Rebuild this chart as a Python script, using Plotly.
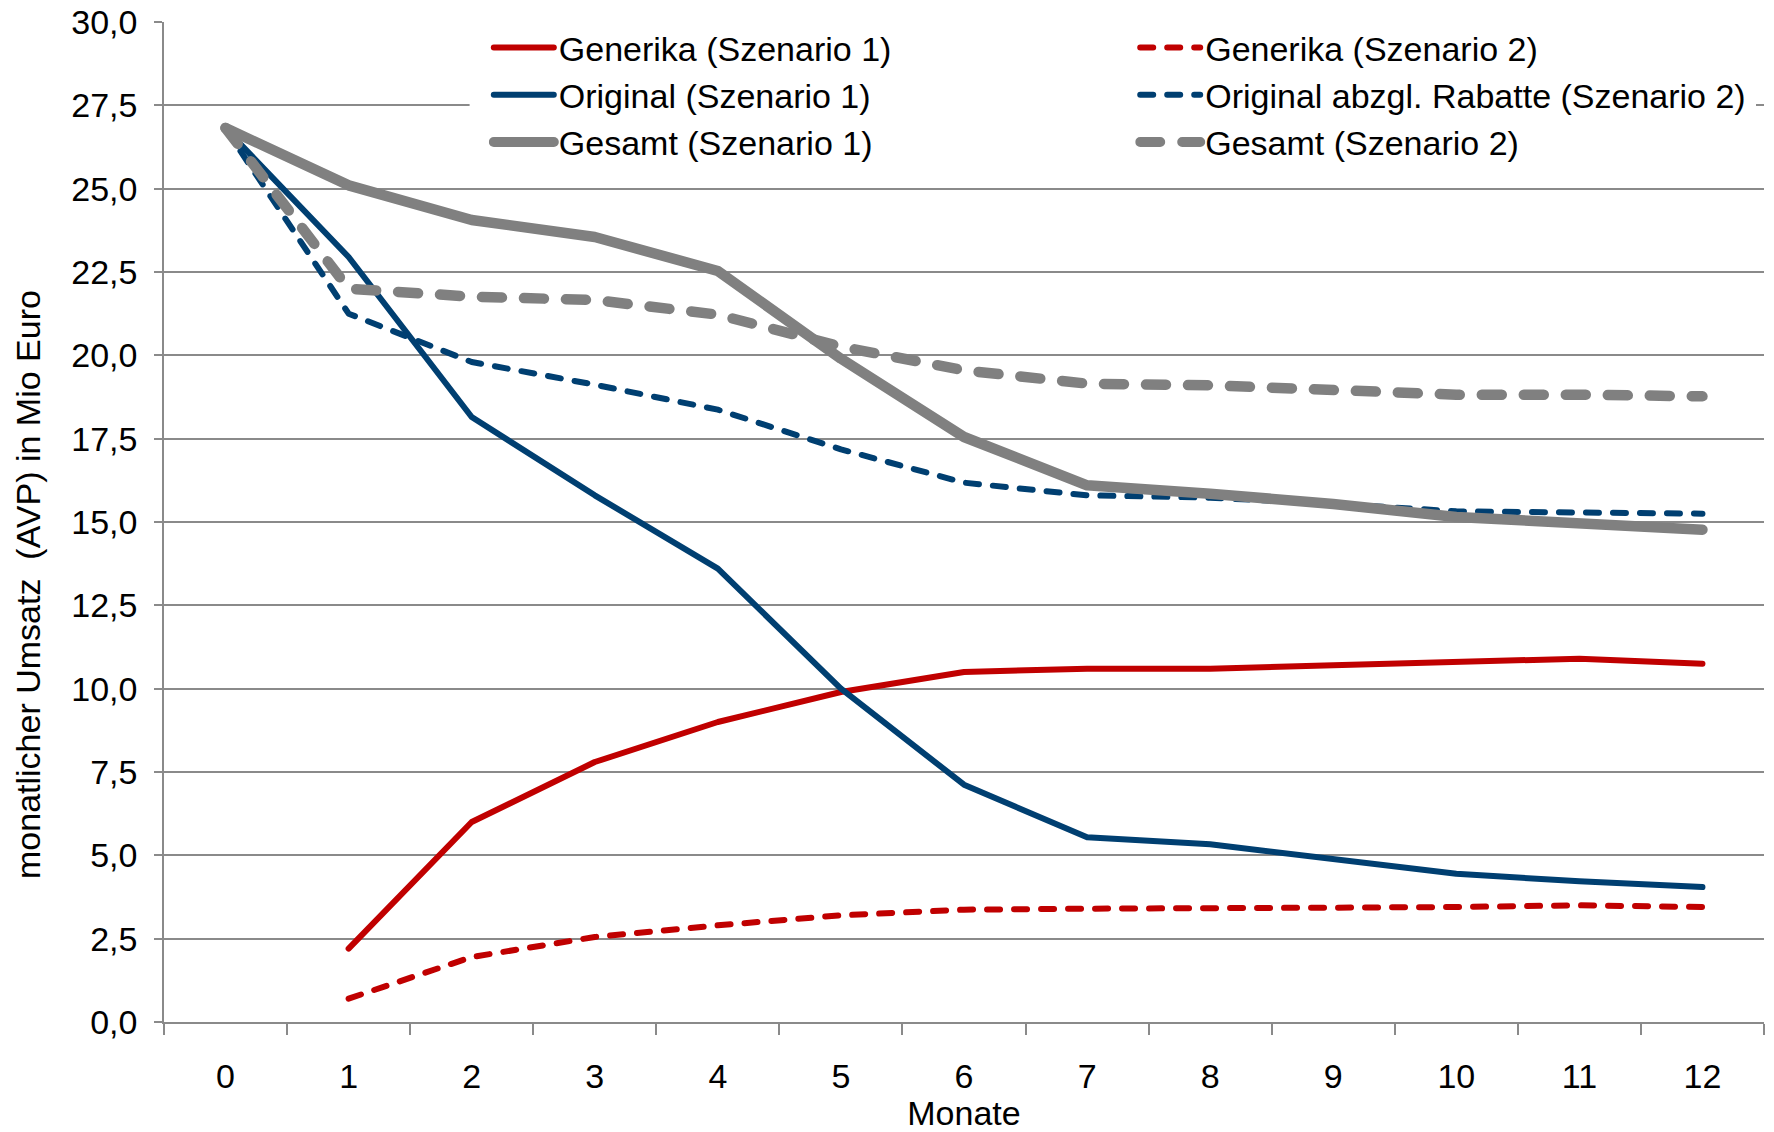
import plotly.graph_objects as go

# ---- data ----
months = [str(m) for m in range(13)]
generika_s1 = [None, 2.2, 6.0, 7.8, 9.0, 9.9, 10.5, 10.6, 10.6, 10.7, 10.8, 10.9, 10.75]
generika_s2 = [None, 0.7, 1.95, 2.55, 2.9, 3.2, 3.37, 3.4, 3.4, 3.43, 3.45, 3.5, 3.45]
original_s1 = [26.8, 22.95, 18.15, 15.8, 13.6, 10.0, 7.12, 5.54, 5.33, 4.87, 4.45, 4.22, 4.05]
original_s2 = [26.8, 21.25, 19.8, 19.12, 18.37, 17.18, 16.18, 15.8, 15.73, 15.55, 15.32, 15.3, 15.25]
gesamt_s1 = [26.82, 25.1, 24.06, 23.55, 22.53, 19.9, 17.55, 16.1, 15.85, 15.54, 15.15, 14.97, 14.77]
gesamt_s2 = [26.82, 22.0, 21.76, 21.66, 21.22, 20.26, 19.55, 19.15, 19.1, 18.95, 18.82, 18.82, 18.77]

y_ticks = [i * 2.5 for i in range(13)]

RED = "#C00000"
BLUE = "#003F71"
GREY = "#808080"
GRID = "#8A8A8A"
FONT = "Liberation Sans, Arial, sans-serif"
FS = 34

series = [
    ("Generika (Szenario 1)", generika_s1, RED, 6, "solid", "legend"),
    ("Generika (Szenario 2)", generika_s2, RED, 6, "13px,14px", "legend2"),
    ("Original (Szenario 1)", original_s1, BLUE, 6, "solid", "legend"),
    ("Original abzgl. Rabatte (Szenario 2)", original_s2, BLUE, 6, "13px,14px", "legend2"),
    ("Gesamt (Szenario 1)", gesamt_s1, GREY, 10.5, "solid", "legend"),
    ("Gesamt (Szenario 2)", gesamt_s2, GREY, 10.5, "20px,22px", "legend2"),
]

fig = go.Figure()
for name, vals, color, width, dash, leg in series:
    fig.add_trace(go.Scatter(
        x=months, y=vals, name=name, mode="lines",
        line=dict(color=color, width=width, dash=dash),
        legend=leg, legendgroup=name,
        connectgaps=False, hoverinfo="skip",
    ))

# white backdrop behind the legend (hides gridlines there)
fig.add_shape(type="rect", xref="paper", yref="paper",
              x0=0.191, x1=0.995, y0=0.845, y1=0.994,
              fillcolor="white", line=dict(width=0), layer="above")

legend_common = dict(
    font=dict(family=FONT, size=FS, color="black"),
    bgcolor="rgba(0,0,0,0)", borderwidth=0,
    orientation="v", xanchor="left", yanchor="top",
    tracegroupgap=11, itemwidth=60, traceorder="normal",
)

fig.update_layout(
    width=1774, height=1132,
    margin=dict(l=164, r=10, t=22, b=110, autoexpand=False),
    paper_bgcolor="white", plot_bgcolor="white",
    separators=",.",
    font=dict(family=FONT, size=FS, color="black"),
    showlegend=True,
    legend=dict(x=0.203, y=1.003, **legend_common),
    legend2=dict(x=0.607, y=1.003, **legend_common),
    xaxis=dict(
        type="category", categoryorder="array", categoryarray=months,
        range=[-0.5, 12.5],
        showline=True, linecolor=GRID, linewidth=1.5,
        ticks="outside", tickson="boundaries", ticklen=11, tickcolor=GRID, tickwidth=1.5,
        showgrid=False, ticklabelstandoff=23,
        tickfont=dict(family=FONT, size=FS, color="black"),
        title=dict(text="Monate", font=dict(family=FONT, size=FS, color="black"), standoff=14),
    ),
    yaxis=dict(
        range=[0, 30], tickvals=y_ticks, tickformat=".1f",
        showline=True, linecolor=GRID, linewidth=1.5,
        ticks="outside", ticklen=8, tickcolor=GRID, tickwidth=1.5,
        showgrid=True, gridcolor=GRID, gridwidth=1.5, zeroline=False,
        ticklabelstandoff=10,
        tickfont=dict(family=FONT, size=FS, color="black"),
    ),
    annotations=[dict(
        text="monatlicher Umsatz\u00a0 (AVP) in Mio Euro",
        xref="paper", yref="paper", x=-0.085, y=0.437,
        xanchor="center", yanchor="middle", textangle=-90,
        showarrow=False, font=dict(family=FONT, size=FS, color="black"),
    )],
)

post = """
var st = document.createElement('style');
st.textContent = '.js-line{stroke-linecap:round !important;stroke-linejoin:round !important;}';
document.head.appendChild(st);
"""

fig.write_html("out.html", post_script=post)
